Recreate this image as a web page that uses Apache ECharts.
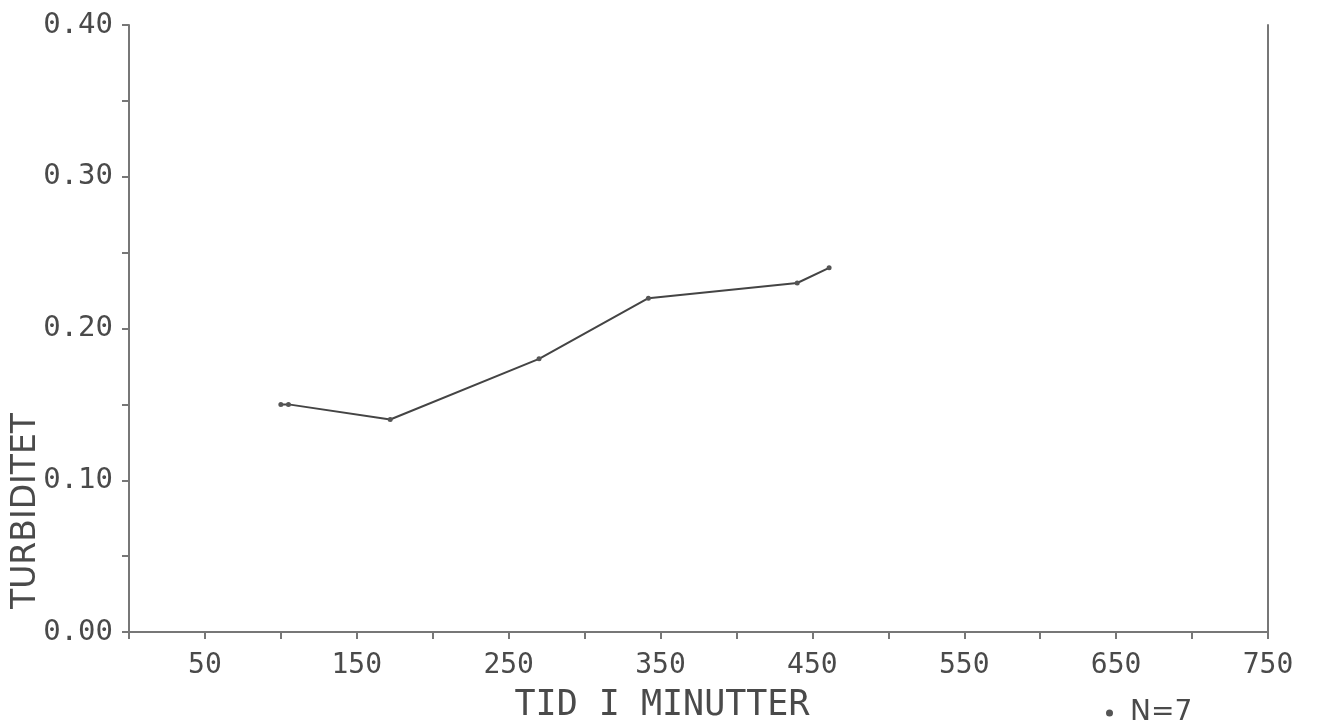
<!DOCTYPE html>
<html>
<head>
<meta charset="utf-8">
<script src="https://cdn.jsdelivr.net/npm/echarts@6/dist/echarts.min.js"></script>
<style>html,body{margin:0;padding:0;background:#fff;}#c{width:1320px;height:726px;}</style>
</head>
<body>
<div id="c"></div>
<script>
const times = [100, 105, 172, 270, 342, 440, 461];
const turbidity = [0.15, 0.15, 0.14, 0.18, 0.22, 0.23, 0.24];
const seriesName = 'N=7';
const xTitle = 'TID I MINUTTER';
const yTitle = 'TURBIDITET';

const chart = echarts.init(document.getElementById('c'));
const ink = '#4a4a4a';
const axisInk = '#777';
const fontMono = '"DejaVu Sans Mono", monospace';
chart.setOption({
  animation: false,
  backgroundColor: '#fff',
  grid: {left: 129, right: 52, top: 25, bottom: 94},
  legend: {
    data: [{name: seriesName, icon: 'circle'}],
    left: 1101, top: 694,
    itemWidth: 7, itemHeight: 7, itemGap: 6,
    textStyle: {fontFamily: '"DejaVu Sans", sans-serif', fontSize: 28, color: ink, padding: [0, 0, 0, 12]}
  },
  xAxis: {
    type: 'value', min: 0, max: 750, interval: 50,
    axisLine: {show: true, lineStyle: {color: axisInk, width: 2}},
    axisTick: {show: true, length: 7, lineStyle: {color: axisInk, width: 2}},
    splitLine: {show: false},
    axisLabel: {
      margin: 20, color: ink, fontFamily: fontMono, fontSize: 28, showMinLabel: true,
      formatter: v => (Math.round(v) % 100 === 50 ? String(Math.round(v)) : '')
    }
  },
  yAxis: [{
    type: 'value', min: 0, max: 0.4, interval: 0.05,
    axisLine: {show: true, lineStyle: {color: axisInk, width: 2}},
    axisTick: {show: true, length: 7, lineStyle: {color: axisInk, width: 2}},
    splitLine: {show: false},
    axisLabel: {
      margin: 16, color: ink, fontFamily: fontMono, fontSize: 29,
      formatter: v => (Math.round(v * 100) % 10 === 0 ? v.toFixed(2) : '')
    }
  }, {
    type: 'value', min: 0, max: 0.4, position: 'right',
    axisLine: {show: true, lineStyle: {color: axisInk, width: 2}},
    axisTick: {show: false}, axisLabel: {show: false}, splitLine: {show: false}
  }],
  graphic: [
    {type: 'text', x: 662, y: 706, style: {text: xTitle, fill: ink, font: '35px "DejaVu Sans Mono", monospace', textAlign: 'center', textVerticalAlign: 'middle'}},
    {type: 'text', x: 26, y: 511, rotation: Math.PI / 2, style: {text: yTitle, fill: ink, font: '33px "DejaVu Sans", sans-serif', textAlign: 'center', textVerticalAlign: 'middle'}}
  ],
  series: [{
    name: seriesName, type: 'line',
    data: times.map((t, i) => [t, turbidity[i]]),
    symbol: 'circle', symbolSize: 5,
    lineStyle: {color: '#444', width: 2},
    itemStyle: {color: '#555'}
  }]
});
</script>
</body>
</html>
